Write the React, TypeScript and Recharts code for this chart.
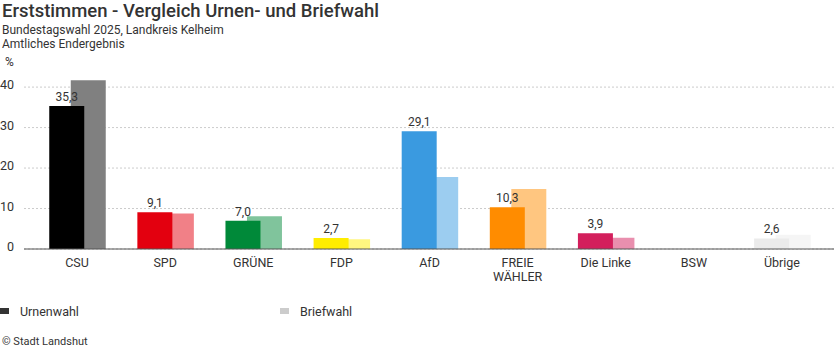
import React from 'react';
import { BarChart, Bar, XAxis, YAxis, CartesianGrid, Cell, LabelList } from 'recharts';

const parties = ['CSU', 'SPD', 'GRÜNE', 'FDP', 'AfD', 'FREIE WÄHLER', 'Die Linke', 'BSW', 'Übrige'];
const urnenwahl: (number | null)[] = [35.3, 9.1, 7.0, 2.7, 29.1, 10.3, 3.9, null, 2.6];
const briefwahl: (number | null)[] = [41.7, 8.8, 8.1, 2.4, 17.8, 14.8, 2.8, null, 3.5];
const yTicks = [0, 10, 20, 30, 40];
const urnenColors = ['#000000', '#e3000f', '#008939', '#ffed00', '#3a9ae0', '#ff8c00', '#d31f5c', '#a0a0a0', '#ebebeb'];
const briefColors = ['#808080', '#f18087', '#80c49c', '#fff680', '#9ccdf0', '#ffc680', '#e98fae', '#d0d0d0', '#f5f5f5'];

const title = 'Erststimmen - Vergleich Urnen- und Briefwahl';
const subtitle1 = 'Bundestagswahl 2025, Landkreis Kelheim';
const subtitle2 = 'Amtliches Endergebnis';
const unit = '%';
const legendNames = ['Urnenwahl', 'Briefwahl'];
const credit = '© Stadt Landshut';

const FONT = "Roboto, 'Noto Sans', sans-serif";
const TEXT = '#333333';

const data = parties.map((name, i) => ({ name, urnen: urnenwahl[i], brief: briefwahl[i] }));

const fmt = (v: any) => (v === null || v === undefined ? '' : Number(v).toFixed(1).replace('.', ','));

const XTick = (props: any) => {
  const { x, y, payload } = props;
  const label: string = payload.value;
  const lines = label.length > 10 ? label.split(' ') : [label];
  return (
    <text x={x} y={y} textAnchor="middle" fill={TEXT} fontSize={12.5} fontFamily={FONT}>
      {lines.map((l, i) => (
        <tspan key={i} x={x} dy={i === 0 ? 18 : 13.5}>{l}</tspan>
      ))}
    </text>
  );
};

const YTick = (props: any) => {
  const { x, y, payload } = props;
  return (
    <text x={x} y={y} dy={2} textAnchor="end" fill={TEXT} fontSize={12.5} fontFamily={FONT}>
      {payload.value}
    </text>
  );
};

export default function App() {
  return (
    <div style={{ position: 'absolute', left: 0, top: 0, width: 834, height: 352, background: '#fff', fontFamily: FONT }}>
      <div style={{ position: 'absolute', left: 0, top: 0 }}>
        <BarChart width={834} height={300} data={data} margin={{ top: 79, right: 0, bottom: 21, left: 0 }}>
          <CartesianGrid xAxisId="main" vertical={false} stroke="#cccccc" strokeDasharray="2 2" syncWithTicks />
          <XAxis
            xAxisId="main"
            dataKey="name"
            height={30}
            padding={{ left: 9, right: 8 }}
            tickLine={false}
            tickSize={0}
            tickMargin={0}
            axisLine={{ stroke: '#555555' }}
            tick={<XTick />}
            interval={0}
          />
          <XAxis xAxisId="u" dataKey="name" hide height={0} orientation="top" padding={{ left: -1.75, right: 18.75 }} />
          <XAxis xAxisId="b" dataKey="name" hide height={0} orientation="top" padding={{ left: 19.75, right: -2.75 }} />
          <YAxis
            width={24}
            domain={[0, 42]}
            ticks={yTicks}
            tickLine={false}
            axisLine={false}
            tickSize={0}
            tickMargin={10}
            tick={<YTick />}
          />
          <Bar xAxisId="b" dataKey="brief" barSize={35} isAnimationActive={false}>
            {data.map((d, i) => (
              <Cell key={i} fill={briefColors[i]} />
            ))}
          </Bar>
          <Bar xAxisId="u" dataKey="urnen" barSize={35} isAnimationActive={false}>
            {data.map((d, i) => (
              <Cell key={i} fill={urnenColors[i]} />
            ))}
            <LabelList dataKey="urnen" position="top" formatter={fmt} fill={TEXT} fontSize={12} fontFamily={FONT} />
          </Bar>
        </BarChart>
      </div>
      <svg width={834} height={352} style={{ position: 'absolute', left: 0, top: 0, pointerEvents: 'none' }}>
        <text x={2} y={17} fontSize={18.5} fontWeight={500} fill={TEXT} fontFamily={FONT}>{title}</text>
        <text x={2} y={34} fontSize={12} fill={TEXT} fontFamily={FONT}>{subtitle1}</text>
        <text x={2} y={48} fontSize={12} fill={TEXT} fontFamily={FONT}>{subtitle2}</text>
        <text x={5} y={66} fontSize={12} fill={TEXT} fontFamily={FONT}>{unit}</text>
        <rect x={0} y={308} width={9} height={6} fill="#333333" />
        <text x={20} y={316} fontSize={12.5} fill={TEXT} fontFamily={FONT}>{legendNames[0]}</text>
        <rect x={280} y={308} width={9} height={6} fill="#cccccc" />
        <text x={300} y={316} fontSize={12.5} fill={TEXT} fontFamily={FONT}>{legendNames[1]}</text>
        <text x={2} y={345} fontSize={11} fill={TEXT} fontFamily={FONT}>{credit}</text>
      </svg>
    </div>
  );
}
